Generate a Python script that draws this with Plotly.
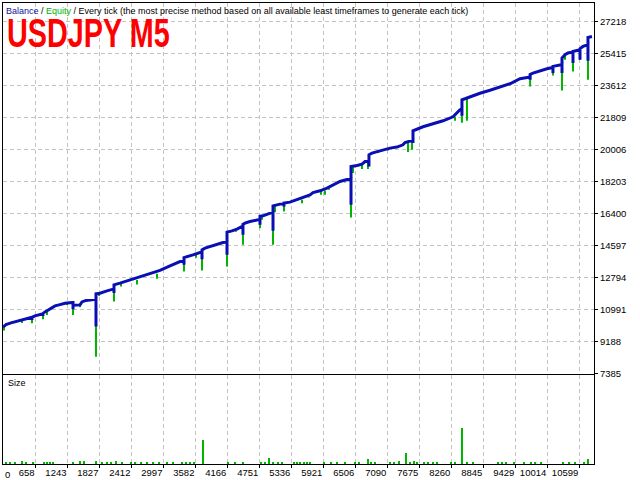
import plotly.graph_objects as go
from bisect import bisect_right

# ---------------- data ----------------
# Balance curve: trade number / balance (repeated trade numbers = short dips of the balance)
bal_trade = [0, 55, 146, 256, 347, 457, 530, 530, 530, 585, 676, 731, 731, 731,
             768, 859, 951, 1042, 1133, 1261, 1280, 1280, 1280, 1408, 1444, 1517, 1682,
             1700, 1700, 1700, 1773, 1828, 1901, 2011, 2029, 2029, 2029,
             2139, 2230, 2322, 2504, 2687, 2870, 3053, 3162, 3236, 3309, 3309, 3309,
             3473, 3583, 3638, 3638, 3638, 3693, 3784, 3912, 4022, 4095, 4095, 4095,
             4186, 4278, 4369, 4387, 4387, 4387, 4424, 4515, 4661, 4698, 4698, 4698,
             4753, 4826, 4917, 4936, 4936, 4936, 5064, 5137, 5137, 5137,
             5246, 5374, 5484, 5612, 5667, 5795, 5923, 6033, 6106, 6160, 6270, 6344,
             6362, 6362, 6362, 6471, 6563, 6618, 6690, 6690, 6690,
             6745, 6837, 6946, 7074, 7202, 7312, 7349, 7458, 7495, 7495, 7495,
             7678, 7861, 8044, 8227, 8354, 8390, 8390, 8390,
             8445, 8537, 8720, 8903, 9085, 9268, 9451, 9579, 9636, 9636, 9636,
             9688, 9816, 9944, 10054, 10054, 10054, 10182, 10219, 10219, 10219,
             10274, 10329, 10420, 10420, 10420, 10475, 10548, 10548, 10548,
             10603, 10676, 10694, 10694, 10694, 10767]
bal_value = [10000, 10150, 10244, 10329, 10414, 10487, 10560, 10414, 10560, 10640, 10713, 10760, 10640, 10780,
             10865, 11051, 11203, 11276, 11355, 11389, 11389, 11017, 11243, 11260, 11429, 11513, 11570,
             11570, 10036, 11880, 11920, 11993, 12050, 12145, 12145, 11936, 12387,
             12483, 12573, 12668, 12839, 13008, 13205, 13459, 13600, 13701, 13701, 13515, 13927,
             14079, 14190, 14248, 13837, 14361, 14457, 14547, 14683, 14773, 14800, 14079, 15359,
             15432, 15528, 15675, 15675, 15207, 15800, 15867, 15957, 16053, 16080, 15771, 16250,
             16278, 16374, 16487, 16487, 15433, 16842, 16938, 16960, 16803, 16994,
             17051, 17181, 17310, 17463, 17592, 17688, 17839, 18027, 18123, 18213, 18309, 18365,
             18365, 16899, 19058, 19115, 19194, 19340, 19340, 19058, 19718,
             19814, 19904, 20000, 20096, 20152, 20282, 20411, 20536, 20536, 20378, 21072,
             21297, 21466, 21635, 21861, 22256, 22300, 21917, 22820,
             22876, 22989, 23186, 23355, 23525, 23722, 24004, 24077, 24100, 23947, 24250,
             24325, 24455, 24568, 24641, 24325, 24700, 24776, 24800, 24325, 25171,
             25357, 25453, 25509, 24889, 25540, 25583, 25639, 25075, 25700,
             25825, 25921, 25921, 25019, 26333, 26389]

# Equity drawdowns: trade number / lowest equity
eq_trade = [18, 347, 530, 731, 804, 1170, 1280, 1408, 1700, 1755, 2029, 2157, 2450, 2815,
            3309, 3528, 3638, 4095, 4259, 4387, 4698, 4735, 4936, 4972, 5137, 5466, 5594,
            5813, 5886, 5960, 6033, 6252, 6362, 6399, 6563, 6672, 6855, 7038, 7404, 7477,
            8263, 8390, 8482, 9636, 10054, 10219, 10274, 10420, 10548, 10694]
eq_low = [9810, 10244, 10227, 10453, 10696, 11260, 10696, 11130, 8344, 11767, 11446, 12292, 12405, 12726,
          13137, 13910, 13194, 13419, 15376, 14643, 15585, 16053, 14643, 16487, 16521, 16994, 17333,
          17463, 17463, 17745, 17998, 18156, 16182, 18686, 18912, 18912, 19814, 19961, 19870, 20000,
          21635, 21523, 21635, 23570, 24190, 23344, 25075, 24416, 25075, 23947]

# Position size (lots) per trade
size_trade = [57, 132, 221, 356, 430, 542, 751, 803, 856, 915, 1288, 1400, 1475, 1699, 1810, 1900,
              1975, 2072, 2184, 2333, 2407, 2519, 2631, 2743, 2855, 3004, 3116, 3265, 3340, 3414,
              3489, 3661, 4123, 4235, 4384, 4720, 4795, 4869, 4944, 5019, 5093, 5317, 5377, 5436,
              5496, 5556, 5615, 5877, 5988, 6100, 6250, 6436, 6511, 6675, 6720, 6809, 7070, 7145,
              7242, 7376, 7443, 7518, 7570, 7705, 7779, 7854, 7928, 8189, 8264, 8391, 8488, 8600,
              9048, 9122, 9197, 9346, 9533, 9645, 9719, 9831, 10241, 10353, 10465, 10614, 10689]
size_lots = [0.01, 0.01, 0.01, 0.02, 0.01, 0.01, 0.01, 0.01, 0.01, 0.01, 0.01, 0.02, 0.02, 0.02, 0.01, 0.01,
             0.01, 0.02, 0.01, 0.01, 0.01, 0.01, 0.01, 0.01, 0.01, 0.01, 0.01, 0.01, 0.01, 0.01,
             0.01, 0.16, 0.01, 0.01, 0.01, 0.01, 0.01, 0.04, 0.01, 0.01, 0.01, 0.01, 0.01, 0.01,
             0.01, 0.01, 0.01, 0.01, 0.01, 0.01, 0.01, 0.01, 0.01, 0.03, 0.01, 0.01, 0.01, 0.01,
             0.02, 0.07, 0.01, 0.02, 0.01, 0.01, 0.01, 0.01, 0.01, 0.01, 0.01, 0.24, 0.01, 0.01,
             0.01, 0.01, 0.01, 0.01, 0.01, 0.01, 0.01, 0.01, 0.01, 0.01, 0.01, 0.01, 0.03]

y_tick_vals = [7385, 9188, 10991, 12794, 14597, 16400, 18203, 20006, 21809, 23612, 25415, 27218]
x_tick_labels = [658, 1243, 1827, 2412, 2997, 3582, 4166, 4751, 5336, 5921, 6506, 7090,
                 7675, 8260, 8845, 9429, 10014, 10599]
LABEL_OFFSET = 64          # MT4 prints the trade index a few pixels right of each grid line
X_RANGE = [0, 10804]
Y_RANGE = [7385, 28273]

# ---------------- styles ----------------
BLUE = "#0A0FB4"
GREEN = "#00B400"
GRID = "#C4C4C4"
FONT = "Tahoma, 'Liberation Sans', Arial, sans-serif"

# equity spikes: from the balance level down to the lowest equity
sx, sy = [], []
for t, lo in zip(eq_trade, eq_low):
    top = bal_value[bisect_right(bal_trade, t) - 1]
    sx += [t, t, None]
    sy += [top, lo, None]

fig = go.Figure()
fig.add_trace(go.Scatter(x=sx, y=sy, mode="lines", line=dict(color=GREEN, width=2),
                         hoverinfo="skip", xaxis="x", yaxis="y", name="Equity"))
fig.add_trace(go.Scatter(x=bal_trade, y=bal_value, mode="lines", line=dict(color=BLUE, width=3),
                         xaxis="x", yaxis="y", name="Balance"))
fig.add_trace(go.Bar(x=size_trade, y=size_lots, width=20, marker=dict(color=GREEN, line=dict(width=0)),
                     xaxis="x2", yaxis="y2", name="Size"))

tick_pos = [v - LABEL_OFFSET for v in x_tick_labels]
tick_txt = [str(v) for v in x_tick_labels]

common_x = dict(range=X_RANGE, tickvals=tick_pos, ticktext=tick_txt, showgrid=True,
                gridcolor=GRID, griddash="4px,3px", gridwidth=1, zeroline=False,
                showline=True, mirror=True, linecolor="black", linewidth=1, tickangle=0)

fig.update_layout(
    width=640, height=480,
    margin=dict(l=3, r=46, t=3, b=16, autoexpand=False),
    paper_bgcolor="white", plot_bgcolor="white",
    showlegend=False,
    bargap=0,
    font=dict(family=FONT, size=9, color="black"),
    xaxis=dict(**common_x, anchor="y", showticklabels=False, ticks=""),
    yaxis=dict(domain=[0.196, 1], range=Y_RANGE, side="right", tickvals=y_tick_vals,
               ticktext=[str(v) for v in y_tick_vals],
               ticks="outside", ticklen=3, tickcolor="black", showgrid=True, gridcolor=GRID,
               griddash="4px,3px", zeroline=False, showline=True, mirror=True,
               linecolor="black", linewidth=1, anchor="x",
               tickfont=dict(family=FONT, size=9.5, color="black")),
    xaxis2=dict(**common_x, anchor="y2", ticks="outside", ticklen=3, tickcolor="black",
                ticklabelposition="outside left",
                tickfont=dict(family=FONT, size=9.5, color="black")),
    yaxis2=dict(domain=[0, 0.192], range=[0, 0.6], showgrid=False, zeroline=False,
                showticklabels=False, ticks="", showline=True, mirror=True,
                linecolor="black", linewidth=1, anchor="x2"),
)

fig.add_annotation(xref="paper", yref="paper", x=0.002, y=0.983, xanchor="left", yanchor="middle",
                   showarrow=False, font=dict(family=FONT, size=9, color="black"),
                   text="<span style='color:#1010A0'>Balance</span> / "
                        "<span style='color:#00B400'>Equity</span> / Every tick (the most precise "
                        "method based on all available least timeframes to generate each tick)")
fig.add_annotation(xref="paper", yref="paper", x=0.0034, y=0.936, xanchor="left", yanchor="middle",
                   showarrow=False,
                   font=dict(family="'Liberation Sans', Arial", size=40, color="#FF0000"),
                   text="<b>USDJPY M5</b>")
fig.add_annotation(xref="paper", yref="paper", x=0.005, y=0.175, xanchor="left", yanchor="middle",
                   showarrow=False, font=dict(family=FONT, size=9, color="black"), text="Size")
fig.add_annotation(xref="paper", yref="paper", x=0.0, y=0, xanchor="left", yanchor="top",
                   yshift=-3, showarrow=False, font=dict(family=FONT, size=9.5, color="black"),
                   text="0")

# page without the browser's default body margin; MT4 draws the symbol caption in a
# condensed bold face, so the real text is squeezed horizontally
post = """
document.body.style.margin = '0';
document.body.style.padding = '0';
document.querySelectorAll('text.annotation-text').forEach(function(t){
  if (t.textContent.indexOf('USDJPY') >= 0) {
    t.style.transformBox = 'fill-box';
    t.style.transformOrigin = '0% 50%';
    t.style.transform = 'scaleX(0.72)';
  }
});
"""
fig.write_html("out.html", post_script=post, config={"displayModeBar": False})
